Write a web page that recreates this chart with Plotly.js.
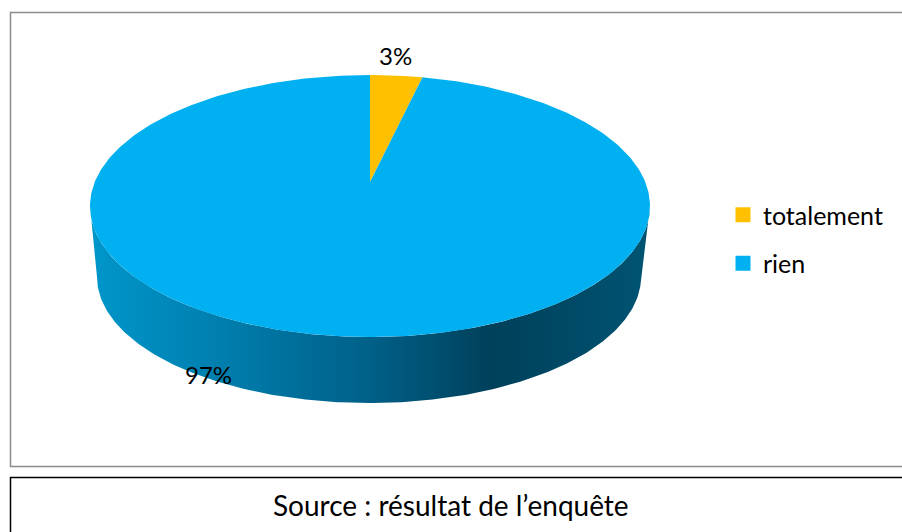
<!DOCTYPE html>
<html><head><meta charset="utf-8">
<script src="https://cdn.plot.ly/plotly-3.0.1.min.js"></script>
<style>html,body{margin:0;padding:0;background:#fff}</style>
</head><body><div id="chart" style="width:902px;height:532px"></div>
<script>
// ---- data ----
const categories = ["totalement", "rien"];
const values = [3, 97];
const labels = ["3%", "97%"];
const colors = ["#FFC000", "#00B0F0"];
const sourceText = "Source : résultat de l’enquête";

// ---- geometry (pixel-like data space) ----
const top3 = {cx: 370, cy: 206, rx: 280, ry: 131};
const bot3 = {cx: 369, cy: 277, rx: 272, ry: 126};
const apex = {x: 370, y: 182};
const total = values.reduce((a, b) => a + b, 0);
const N = 240;
function pt(e, ang) { // ang in radians, clockwise from 12 o'clock
  return [e.cx + e.rx * Math.sin(ang), e.cy - e.ry * Math.cos(ang)];
}
const traces = [];

// side wall (front half)
const sx = [], sy = [];
for (let i = 0; i <= N; i++) {
  const a = Math.PI / 2 + Math.PI * i / N;
  const p = pt(top3, a); sx.push(p[0]); sy.push(p[1]);
}
for (let i = N; i >= 0; i--) {
  const a = Math.PI / 2 + Math.PI * i / N;
  const p = pt(bot3, a); sx.push(p[0]); sy.push(p[1]);
}
sx.push(sx[0]); sy.push(sy[0]);
traces.push({
  x: sx, y: sy, mode: "lines", fill: "toself", line: {width: 0, color: "rgba(0,0,0,0)"},
  fillgradient: {type: "horizontal", start: 90, stop: 650,
    colorscale: [[0, "#0096CA"], [0.2, "#0082B2"], [0.5, "#006088"], [0.72, "#00405A"], [1, "#005473"]]},
  hoverinfo: "skip", showlegend: false
});

// top wedges
let cum = 0;
values.forEach((v, k) => {
  const a0 = 2 * Math.PI * cum / total;
  const a1 = 2 * Math.PI * (cum + v) / total;
  cum += v;
  const xs = [apex.x], ys = [apex.y];
  const n = Math.max(4, Math.round(N * 2 * (a1 - a0) / (2 * Math.PI)));
  for (let i = 0; i <= n; i++) {
    const p = pt(top3, a0 + (a1 - a0) * i / n); xs.push(p[0]); ys.push(p[1]);
  }
  xs.push(apex.x); ys.push(apex.y);
  traces.push({x: xs, y: ys, mode: "lines", fill: "toself", fillcolor: colors[k],
    line: {width: 0, color: colors[k]}, hoverinfo: "skip", showlegend: false});
});

// legend entries
categories.forEach((c, k) => {
  traces.push({x: [null], y: [null], mode: "markers", name: c, legendgroup: c,
    marker: {symbol: "square", size: 15, color: colors[k]}});
});

const font = "Lato, 'Open Sans', sans-serif";
const layout = {
  width: 902, height: 532, margin: {l: 0, r: 0, t: 0, b: 0},
  paper_bgcolor: "#fff", plot_bgcolor: "#fff",
  xaxis: {range: [0, 902], visible: false, fixedrange: true},
  yaxis: {range: [532, 0], visible: false, fixedrange: true},
  showlegend: true,
  legend: {x: 723 / 902, y: 1 - 192 / 532, xanchor: "left", yanchor: "top",
    traceorder: "grouped", tracegroupgap: 13, bgcolor: "rgba(0,0,0,0)",
    font: {family: font, size: 25, color: "#000"}, itemwidth: 30},
  font: {family: font},
  shapes: [
    {type: "rect", xref: "x", yref: "y", x0: 10.5, y0: 12.5, x1: 910, y1: 466.5,
      line: {color: "#8c8c8c", width: 1.5}},
    {type: "rect", xref: "x", yref: "y", x0: 10.5, y0: 477.5, x1: 910, y1: 540,
      line: {color: "#000", width: 1.5}}
  ],
  annotations: [
    {x: 395, y: 55, xref: "x", yref: "y", text: labels[0], showarrow: false,
      font: {family: font, size: 24, color: "#000"}},
    {x: 208, y: 374, xref: "x", yref: "y", text: labels[1], showarrow: false,
      font: {family: font, size: 24, color: "#000"}},
    {x: 451, y: 505, xref: "x", yref: "y", text: sourceText, showarrow: false,
      font: {family: font, size: 28, color: "#000"}}
  ]
};
Plotly.newPlot("chart", traces, layout, {staticPlot: true, displayModeBar: false});
</script></body></html>
